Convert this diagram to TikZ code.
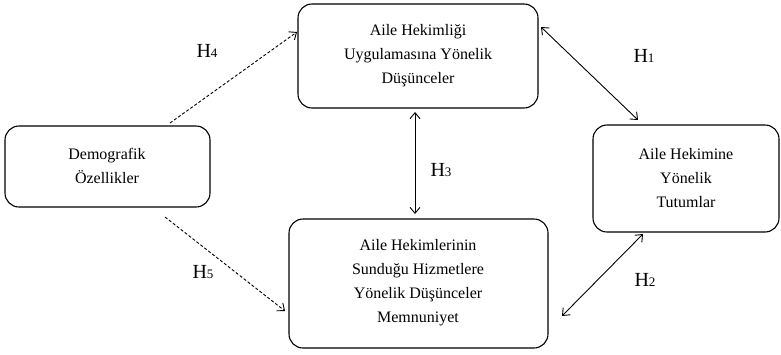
\documentclass[tikz,border=0pt]{standalone}
\usepackage{fontspec}
\setmainfont{Liberation Serif}
\usetikzlibrary{arrows.meta}
\begin{document}
\begin{tikzpicture}[x=1pt,y=-1pt,
  box/.style={draw,line width=1.1pt,rounded corners=14pt},
  txt/.style={align=center,font=\fontsize{16}{24}\selectfont},
  lab/.style={font=\fontsize{20}{22}\selectfont},
  dbl/.style={line width=0.9pt,{Straight Barb[length=6pt,width=10pt]}-{Straight Barb[length=6pt,width=10pt]}},
  dsh/.style={line width=0.9pt,densely dashed,-{Straight Barb[length=6pt,width=10pt]}}]
\useasboundingbox (0,0) rectangle (781,354);
\draw[box] (298,4) rectangle (538,108);
\node[txt] (top) at (418,56) {Aile Hekimliği\\Uygulamasına Yönelik\\Düşünceler};
\draw[box] (5,126) rectangle (210,207);
\node[txt] (demo) at (107,166) {Demografik\\Özellikler};
\draw[box] (593,125) rectangle (779,232);
\node[txt] (right) at (686,178) {Aile Hekimine\\Yönelik\\Tutumlar};
\draw[box] (289,219) rectangle (548,348);
\node[txt] (bot) at (418,283) {Aile Hekimlerinin\\Sunduğu Hizmetlere\\Yönelik Düşünceler\\Memnuniyet};
\coordinate (a1) at (541,27); \coordinate (b1) at (638,120);
\coordinate (a2) at (643,234); \coordinate (b2) at (562,316);
\coordinate (a3) at (415,112); \coordinate (b3) at (415,214);
\coordinate (a4) at (170,123); \coordinate (b4) at (297,32);
\coordinate (a5) at (165,217); \coordinate (b5) at (285,311);
\draw[dbl] (a1) -- (b1);
\draw[dbl] (a2) -- (b2);
\draw[dbl] (a3) -- (b3);
\draw[dsh] (a4) -- (b4);
\draw[dsh] (a5) -- (b5);
\node[lab] (h4) at (207,51) {H{\fontsize{13}{13}\selectfont 4}};
\node[lab] (h1) at (644,56) {H{\fontsize{13}{13}\selectfont 1}};
\node[lab] (h3) at (441,170) {H{\fontsize{13}{13}\selectfont 3}};
\node[lab] (h5) at (203,272) {H{\fontsize{13}{13}\selectfont 5}};
\node[lab] (h2) at (645,280) {H{\fontsize{13}{13}\selectfont 2}};
\end{tikzpicture}
\end{document}
